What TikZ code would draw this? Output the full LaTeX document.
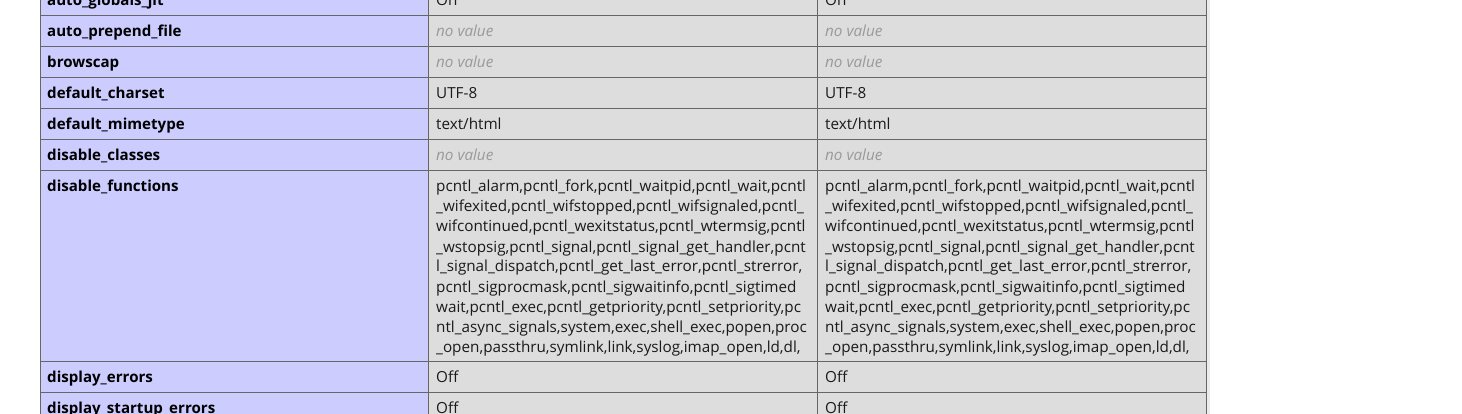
\documentclass[tikz,border=0pt]{standalone}
\usepackage{fontspec}
\setmainfont{Open Sans}
\definecolor{keybg}{HTML}{CCCCFF}
\definecolor{valbg}{HTML}{DDDDDD}
\definecolor{rule}{HTML}{666666}
\definecolor{ink}{HTML}{1A1A1A}
\definecolor{novalue}{HTML}{999999}
\tikzset{
  cell/.style={inner sep=0pt, anchor=base west, font=\fontsize{15.25}{20}\selectfont, text=ink},
  keytext/.style={cell, font=\fontsize{15.1}{20}\selectfont\bfseries, text=black},
  novaltext/.style={cell, font=\fontsize{15.25}{20}\selectfont\itshape, text=novalue},
  grid/.style={draw=rule, line width=1pt}
}
\begin{document}
\begin{tikzpicture}[x=1pt,y=-1pt]
\useasboundingbox (0,0) rectangle (1462,414);
\fill[white] (0,0) rectangle (1462,414);
\fill[keybg] (40.5,-2) rectangle (428.5,416);
\fill[valbg] (428.5,-2) rectangle (1206.5,416);
\fill[black!8] (1207,-2) rectangle (1210,416);
% grid
\foreach \yy in {15.5,46.5,77.5,108.5,139.5,170.5,361.5,392.5}
  \draw[grid] (40.5,\yy) -- (1206.5,\yy);
\foreach \xx in {40.5,428.5,817.5,1206.5}
  \draw[grid] (\xx,-2) -- (\xx,416);
% row 0
\node[keytext] (k0) at (47,5.5) {auto\_globals\_jit};
\node[cell] (a0) at (436,5.5) {On};
\node[cell] (b0) at (825,5.5) {On};
% row 1
\node[keytext] (k1) at (47,36.5) {auto\_prepend\_file};
\node[novaltext] (a1) at (436,36.5) {no value};
\node[novaltext] (b1) at (825,36.5) {no value};
% row 2
\node[keytext] (k2) at (47,67.5) {browscap};
\node[novaltext] (a2) at (436,67.5) {no value};
\node[novaltext] (b2) at (825,67.5) {no value};
% row 3
\node[keytext] (k3) at (47,98.5) {default\_charset};
\node[cell] (a3) at (436,98.5) {UTF-8};
\node[cell] (b3) at (825,98.5) {UTF-8};
% row 4
\node[keytext] (k4) at (47,129.5) {default\_mimetype};
\node[cell] (a4) at (436,129.5) {text/html};
\node[cell] (b4) at (825,129.5) {text/html};
% row 5
\node[keytext] (k5) at (47,160.5) {disable\_classes};
\node[novaltext] (a5) at (436,160.5) {no value};
\node[novaltext] (b5) at (825,160.5) {no value};
% row 6
\node[keytext] (k6) at (47,192) {disable\_functions};
\foreach \col/\xx in {a/436,b/825}{
\node[cell] (\col61) at (\xx,192) {pcntl\_alarm,pcntl\_fork,pcntl\_waitpid,pcntl\_wait,pcntl};
\node[cell] (\col62) at (\xx,212) {\_wifexited,pcntl\_wifstopped,pcntl\_wifsignaled,pcntl\_};
\node[cell] (\col63) at (\xx,232) {wifcontinued,pcntl\_wexitstatus,pcntl\_wtermsig,pcntl};
\node[cell] (\col64) at (\xx,252) {\_wstopsig,pcntl\_signal,pcntl\_signal\_get\_handler,pcnt};
\node[cell] (\col65) at (\xx,272) {l\_signal\_dispatch,pcntl\_get\_last\_error,pcntl\_strerror,};
\node[cell] (\col66) at (\xx,292) {pcntl\_sigprocmask,pcntl\_sigwaitinfo,pcntl\_sigtimed};
\node[cell] (\col67) at (\xx,312) {wait,pcntl\_exec,pcntl\_getpriority,pcntl\_setpriority,pc};
\node[cell] (\col68) at (\xx,332) {ntl\_async\_signals,system,exec,shell\_exec,popen,proc};
\node[cell] (\col69) at (\xx,352) {\_open,passthru,symlink,link,syslog,imap\_open,ld,dl,};
}
% row 7
\node[keytext] (k7) at (47,382.5) {display\_errors};
\node[cell] (a7) at (436,382.5) {Off};
\node[cell] (b7) at (825,382.5) {Off};
% row 8
\node[keytext] (k8) at (47,413.5) {display\_startup\_errors};
\node[cell] (a8) at (436,413.5) {Off};
\node[cell] (b8) at (825,413.5) {Off};
\end{tikzpicture}
\end{document}
